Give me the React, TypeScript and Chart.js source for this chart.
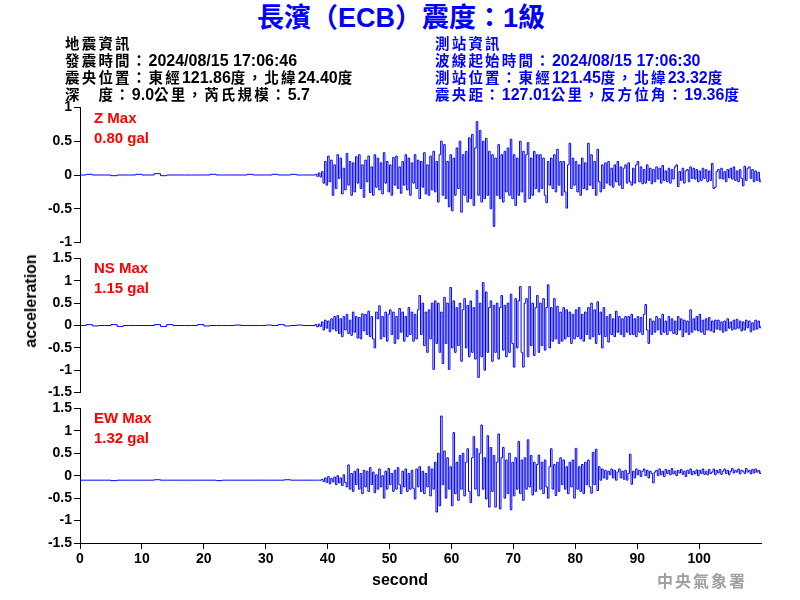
import React, { useEffect, useRef } from "react";
import { Chart, registerables } from "chart.js";

Chart.register(...registerables);

// ---- axis settings ----
const X_MIN = 0;
const X_MAX = 110;
const X_LAST_LABEL = 100;
const PRE_STEP = 1; // seconds between pre-event samples
const ACTIVE_START = 38; // seconds
const ACTIVE_STEP = 0.25; // seconds between samples in the shaking part

// ---- Z component (gal) ----
const zPre = [0, 0.01, 0, 0, 0, -0.01, 0, 0, 0, 0.01, 0, 0, 0.02, -0.01, 0, 0, 0, 0, 0, 0,
  0, 0.01, 0, 0, 0, 0, 0, 0.01, 0, 0, 0, 0.01, 0, 0, 0.01, 0, 0, 0];
const zWave = [
  0.01, -0.02, 0.03, -0.03, // 38
  0.05, -0.12, 0.2, -0.15, // 39
  0.28, -0.1, 0.22, -0.3, // 40
  0.15, -0.2, 0.3, -0.05, // 41
  0.25, -0.28, 0.1, -0.22, // 42
  0.32, -0.15, 0.2, -0.3, // 43
  0.18, -0.25, 0.27, -0.12, // 44
  0.3, -0.2, 0.15, -0.33, // 45
  0.22, -0.1, 0.28, -0.26, // 46
  0.12, -0.3, 0.3, -0.18, // 47
  0.25, -0.22, 0.18, -0.28, // 48
  0.33, -0.12, 0.2, -0.25, // 49
  0.15, -0.3, 0.26, -0.15, // 50
  0.28, -0.2, 0.12, -0.27, // 51
  0.2, -0.15, 0.3, -0.22, // 52
  0.25, -0.3, 0.18, -0.12, // 53
  0.3, -0.2, 0.22, -0.35, // 54
  0.2, -0.18, 0.33, -0.28, // 55
  0.15, -0.3, 0.28, -0.22, // 56
  0.35, -0.25, 0.2, -0.4, // 57
  0.3, 0.5, -0.3, 0.45, // 58
  -0.35, 0.2, -0.47, 0.3, // 59
  -0.53, 0.25, -0.3, 0.4, // 60
  -0.2, 0.5, -0.55, 0.3, // 61
  -0.3, 0.35, -0.4, 0.55, // 62
  -0.35, 0.6, -0.45, 0.4, // 63
  0.79, -0.3, 0.66, -0.4, // 64
  0.5, -0.35, 0.54, -0.3, // 65
  0.35, -0.5, 0.3, -0.76, // 66
  0.25, -0.3, 0.45, -0.35, // 67
  0.3, -0.4, 0.35, -0.25, // 68
  0.4, -0.3, 0.53, -0.35, // 69
  0.3, -0.45, 0.25, -0.3, // 70
  0.5, -0.25, 0.35, -0.4, // 71
  0.3, 0.48, -0.35, 0.25, // 72
  -0.3, 0.35, -0.2, 0.3, // 73
  -0.25, 0.3, -0.2, 0.25, // 74
  -0.3, -0.41, 0.2, -0.15, // 75
  0.25, -0.2, 0.3, -0.25, // 76
  0.38, -0.15, 0.2, -0.3, // 77
  0.2, -0.25, -0.49, 0.15, // 78
  0.47, -0.2, 0.25, -0.15, // 79
  0.2, -0.25, 0.15, -0.3, // 80
  0.25, -0.2, 0.18, -0.22, // 81
  0.47, -0.15, 0.3, -0.2, // 82
  0.2, -0.3, 0.38, -0.1, // 83
  -0.25, 0.15, -0.2, 0.18, // 84
  -0.12, 0.2, -0.15, 0.1, // 85
  -0.18, 0.15, -0.1, 0.2, // 86
  -0.15, 0.12, -0.2, 0.1, // 87
  0.15, -0.12, 0.18, -0.1, // 88
  -0.15, 0.1, -0.12, 0.15, // 89
  0.2, -0.1, 0.12, -0.13, // 90
  0.08, -0.12, 0.15, -0.08, // 91
  0.1, -0.13, 0.08, -0.1, // 92
  0.12, -0.06, 0.1, -0.12, // 93
  0.14, -0.08, 0.06, -0.1, // 94
  0.1, -0.12, 0.08, -0.06, // 95
  0.12, 0.15, -0.17, 0.05, // 96
  -0.08, 0.1, -0.12, 0.06, // 97
  0.08, -0.1, 0.12, -0.05, // 98
  0.1, -0.06, 0.08, -0.1, // 99
  0.06, -0.08, 0.1, -0.05, // 100
  0.08, -0.1, 0.06, -0.08, // 101
  0.17, -0.2, -0.18, 0.05, // 102
  0.08, -0.05, 0.1, -0.06, // 103
  0.05, -0.1, 0.08, -0.04, // 104
  0.1, -0.06, 0.12, -0.08, // 105
  0.06, -0.1, 0.08, -0.05, // 106
  -0.16, 0.13, -0.08, 0.1, // 107
  0.12, -0.05, 0.08, -0.1, // 108
  0.06, -0.08, 0.04, -0.1, // 109
  -0.05, // 110
];

// ---- NS component (gal) ----
const nsPre = [0, 0.02, -0.01, 0, 0, 0.02, -0.02, 0, 0, 0, 0, 0, 0.02, -0.02, 0.02, 0, 0, 0, 0, 0.02,
  -0.01, 0, 0, 0, 0, 0.01, 0, 0, 0, 0, 0.01, 0, 0.02, -0.01, 0, 0.01, 0, 0];
const nsWave = [
  0.02, -0.03, 0.03, -0.02, // 38
  0.08, -0.1, 0.12, -0.06, // 39
  0.1, -0.14, 0.15, -0.08, // 40
  0.2, -0.12, 0.22, -0.18, // 41
  0.15, -0.25, 0.2, -0.1, // 42
  0.25, -0.18, 0.12, -0.22, // 43
  0.3, -0.15, 0.2, -0.28, // 44
  0.18, -0.3, 0.26, -0.12, // 45
  0.25, -0.2, 0.32, -0.25, // 46
  0.2, -0.3, -0.5, 0.3, // 47
  0.15, 0.44, -0.3, 0.2, // 48
  -0.25, 0.3, -0.35, 0.25, // 49
  0.35, -0.2, 0.3, -0.4, // 50
  0.2, -0.3, 0.38, -0.15, // 51
  0.3, -0.35, 0.2, -0.25, // 52
  0.4, -0.2, 0.3, -0.35, // 53
  0.25, -0.3, 0.35, 0.67, // 54
  -0.2, 0.5, -0.45, 0.3, // 55
  -0.6, 0.35, -0.3, 0.5, // 56
  -0.98, 0.55, -0.4, 0.5, // 57
  -0.6, 0.3, -0.85, 0.63, // 58
  -0.4, 0.5, -0.98, 0.85, // 59
  -0.5, 0.55, -0.6, 0.4, // 60
  -0.45, 0.5, -0.8, 0.35, // 61
  0.6, -0.5, 0.45, -0.7, // 62
  0.55, -0.6, 0.4, -0.75, // 63
  0.78, -1.16, 0.5, -0.7, // 64
  0.96, -1.0, 0.75, -0.6, // 65
  0.4, 0.55, -0.8, 0.45, // 66
  -0.6, 0.5, -0.75, 0.4, // 67
  0.67, -0.55, 0.45, -0.7, // 68
  0.5, -0.6, 0.7, -0.4, // 69
  -0.93, 0.6, -0.5, 0.55, // 70
  0.87, -0.6, -0.93, 0.5, // 71
  0.6, -0.7, 0.87, -0.45, // 72
  0.5, -0.67, 0.4, 0.67, // 73
  -0.6, 0.5, -0.45, 0.6, // 74
  -0.55, 0.4, 0.91, -0.5, // 75
  0.4, -0.35, 0.6, -0.3, // 76
  0.43, -0.4, 0.3, -0.35, // 77
  0.4, -0.3, 0.35, -0.25, // 78
  0.3, -0.4, 0.25, -0.3, // 79
  0.35, -0.25, 0.4, -0.3, // 80
  0.25, -0.35, 0.3, -0.2, // 81
  0.4, -0.3, 0.5, -0.25, // 82
  0.35, -0.4, 0.53, -0.2, // 83
  0.3, -0.5, 0.4, -0.25, // 84
  0.2, -0.37, 0.25, -0.2, // 85
  0.15, -0.25, 0.32, -0.15, // 86
  0.2, -0.2, 0.15, -0.25, // 87
  0.2, -0.15, 0.2, -0.2, // 88
  0.25, -0.2, 0.15, -0.25, // 89
  0.2, -0.15, 0.18, -0.2, // 90
  0.25, 0.47, -0.1, -0.4, // 91
  0.15, -0.2, 0.1, -0.15, // 92
  0.2, -0.1, 0.15, -0.2, // 93
  0.25, -0.15, 0.1, -0.2, // 94
  0.2, -0.12, 0.15, -0.18, // 95
  0.1, -0.2, 0.2, -0.1, // 96
  0.15, -0.25, 0.12, -0.15, // 97
  0.1, -0.2, 0.35, -0.15, // 98
  0.15, -0.1, 0.2, -0.12, // 99
  0.25, -0.15, 0.12, -0.2, // 100
  0.15, -0.1, 0.18, -0.12, // 101
  0.1, -0.15, 0.12, -0.08, // 102
  0.12, -0.1, 0.08, -0.15, // 103
  0.1, -0.12, 0.15, -0.06, // 104
  0.08, -0.1, 0.12, -0.08, // 105
  0.14, -0.06, 0.1, -0.12, // 106
  0.08, -0.1, 0.12, -0.05, // 107
  0.1, -0.14, 0.06, -0.1, // 108
  0.12, -0.08, 0.1, -0.05, // 109
  0.0, // 110
];

// ---- EW component (gal) ----
const ewPre = [-0.1, -0.1, -0.1, -0.1, -0.1, -0.11, -0.1, -0.1, -0.1, -0.1, -0.1, -0.1, -0.09, -0.1, -0.1, -0.1,
  -0.1, -0.1, -0.1, -0.1, -0.1, -0.1, -0.11, -0.1, -0.1, -0.1, -0.1, -0.1, -0.1, -0.1, -0.1, -0.1,
  -0.1, -0.09, -0.1, -0.1, -0.1, -0.1];
const ewWave = [
  -0.1, -0.1, -0.1, -0.1, // 38
  -0.08, -0.13, -0.05, -0.15, // 39
  -0.02, -0.18, -0.06, -0.14, // 40
  -0.03, -0.2, 0.0, -0.16, // 41
  -0.05, -0.22, 0.02, -0.15, // 42
  -0.25, 0.24, -0.3, 0.05, // 43
  -0.35, 0.1, -0.2, 0.15, // 44
  -0.3, 0.05, -0.4, 0.12, // 45
  -0.25, 0.1, -0.35, 0.18, // 46
  -0.2, 0.08, -0.38, 0.02, // 47
  -0.3, 0.15, -0.25, 0.0, // 48
  -0.5, 0.1, -0.3, 0.16, // 49
  -0.2, 0.05, -0.35, 0.12, // 50
  -0.3, 0.18, -0.2, -0.4, // 51
  0.1, -0.25, 0.15, -0.35, // 52
  0.05, -0.3, 0.12, -0.28, // 53
  -0.52, 0.15, -0.25, 0.2, // 54
  -0.35, 0.1, -0.4, 0.05, // 55
  -0.25, 0.2, -0.45, 0.15, // 56
  -0.3, 0.3, -0.81, 0.5, // 57
  -0.67, 1.33, -0.2, 0.55, // 58
  -0.5, 0.4, -0.3, 0.2, // 59
  -0.67, 0.96, -0.4, 0.3, // 60
  -0.55, 0.45, -0.3, 0.5, // 61
  -0.45, 0.3, 0.6, -0.35, // 62
  -0.6, 0.4, 0.87, -0.3, // 63
  0.6, -0.45, 0.5, 1.13, // 64
  -0.3, 0.4, -0.52, 0.89, // 65
  -0.7, 0.63, -0.35, 0.45, // 66
  -0.7, 0.3, 0.93, -0.74, // 67
  0.4, 0.63, -0.5, 0.35, // 68
  -0.4, 0.5, -0.76, 0.3, // 69
  -0.45, 0.4, -0.3, 0.76, // 70
  -0.4, 0.35, -0.55, 0.4, // 71
  -0.3, 0.8, -0.25, 0.45, // 72
  -0.43, 0.3, -0.35, 0.25, // 73
  0.46, -0.3, 0.3, -0.4, // 74
  0.35, -0.25, -0.5, 0.2, // 75
  0.6, -0.3, 0.25, -0.44, // 76
  0.3, -0.35, 0.4, -0.2, // 77
  0.35, -0.3, 0.2, -0.4, // 78
  0.3, -0.25, 0.35, -0.5, // 79
  0.61, -0.3, 0.2, -0.35, // 80
  0.25, -0.4, 0.3, -0.2, // 81
  0.35, -0.25, -0.39, 0.52, // 82
  -0.2, 0.59, -0.33, 0.2, // 83
  -0.1, 0.15, -0.05, 0.12, // 84
  -0.08, 0.1, 0.02, 0.15, // 85
  -0.05, 0.12, -0.1, 0.08, // 86
  0.15, -0.05, 0.1, -0.08, // 87
  0.12, -0.1, 0.05, 0.48, // 88
  -0.19, 0.1, -0.05, 0.15, // 89
  0.02, 0.12, -0.02, 0.1, // 90
  0.15, 0.0, 0.12, -0.05, // 91
  0.1, 0.05, -0.16, 0.08, // 92
  0.12, 0.0, 0.15, 0.02, // 93
  0.1, -0.02, 0.14, 0.05, // 94
  0.12, 0.02, 0.16, 0.04, // 95
  0.1, 0.0, 0.12, 0.06, // 96
  0.14, 0.03, 0.1, -0.02, // 97
  0.12, 0.05, 0.15, 0.02, // 98
  0.1, 0.04, 0.13, 0.0, // 99
  0.12, 0.05, 0.15, 0.03, // 100
  0.1, 0.02, 0.14, 0.05, // 101
  0.08, 0.15, 0.02, 0.12, // 102
  0.06, 0.14, 0.03, 0.1, // 103
  0.15, 0.05, 0.12, 0.02, // 104
  0.1, 0.16, 0.06, 0.12, // 105
  0.08, 0.15, 0.04, 0.12, // 106
  0.1, 0.05, 0.16, 0.08, // 107
  0.12, 0.04, 0.14, 0.06, // 108
  0.15, 0.08, 0.12, 0.05, // 109
  0.1, // 110
];

// ---- texts ----
const titleText = "長濱（ECB）震度：1級";
const quakeInfo = [
  "地震資訊",
  "發震時間：2024/08/15 17:06:46",
  "震央位置：東經121.86度，北緯24.40度",
  "深　度：9.0公里，芮氏規模：5.7",
];
const stationInfo = [
  "測站資訊",
  "波線起始時間：2024/08/15 17:06:30",
  "測站位置：東經121.45度，北緯23.32度",
  "震央距：127.01公里，反方位角：19.36度",
];
const panelNames = ["Z Max", "NS Max", "EW Max"];
const panelMaxLabels = ["0.80 gal", "1.15 gal", "1.32 gal"];
const yLabel = "acceleration";
const xLabel = "second";
const agency = "中央氣象署";

const LATIN = '"Liberation Sans", Arial, "Noto Sans CJK TC", sans-serif';
const CJK = '"Noto Sans CJK TC", sans-serif';
const BLUE = "#0000FF";

function buildPoints(pre: number[], wave: number[]) {
  const pts: { x: number; y: number }[] = [];
  pre.forEach((v, i) => pts.push({ x: i * PRE_STEP, y: v }));
  wave.forEach((v, i) => pts.push({ x: ACTIVE_START + i * ACTIVE_STEP, y: v }));
  return pts;
}

type PanelProps = {
  top: number;
  height: number;
  padBottom: number;
  yMin: number;
  yMax: number;
  pre: number[];
  wave: number[];
  showX: boolean;
};

function WavePanel({ top, height, padBottom, yMin, yMax, pre, wave, showX }: PanelProps) {
  const ref = useRef<HTMLCanvasElement>(null);
  useEffect(() => {
    const tickFont = { family: LATIN, size: 14, weight: "bold" as const };
    const xScale: any = {
      type: "linear",
      min: X_MIN,
      max: X_MAX,
      display: showX,
      border: { display: true, color: "#000", width: 1 },
      grid: { drawOnChartArea: false, drawTicks: true, tickLength: 6, color: "#000" },
      ticks: {
        stepSize: 10,
        autoSkip: false,
        maxRotation: 0,
        padding: 2,
        color: "#000",
        font: tickFont,
      },
      afterBuildTicks: (s: any) => {
        s.ticks = s.ticks.filter((t: any) => t.value <= X_LAST_LABEL);
      },
    };
    if (showX) {
      xScale.afterFit = (s: any) => {
        s.height = 57;
      };
    }
    const chart = new Chart(ref.current!, {
      type: "line",
      data: {
        datasets: [
          {
            data: buildPoints(pre, wave),
            borderColor: BLUE,
            borderWidth: 1,
            pointRadius: 0,
            stepped: true,
            fill: false,
            tension: 0,
          },
        ],
      },
      options: {
        animation: false,
        responsive: false,
        events: [],
        layout: { padding: { top: 10, bottom: padBottom, left: 0, right: 39 } },
        plugins: { legend: { display: false }, tooltip: { enabled: false } },
        scales: {
          x: xScale,
          y: {
            min: yMin,
            max: yMax,
            border: { display: true, color: "#000", width: 1 },
            grid: { drawOnChartArea: false, drawTicks: true, tickLength: 6, color: "#000" },
            ticks: {
              stepSize: 0.5,
              padding: 2,
              color: "#000",
              font: tickFont,
              callback: (v: any) => String(Math.round(Number(v) * 10) / 10),
            },
            afterFit: (s: any) => {
              s.width = 80;
            },
          },
        },
      },
    });
    return () => chart.destroy();
  }, []);
  return (
    <canvas
      ref={ref}
      width={800}
      height={height}
      style={{ position: "absolute", left: 0, top, width: 800, height }}
    />
  );
}

const textBase: React.CSSProperties = {
  position: "absolute",
  fontFamily: LATIN,
  fontWeight: "bold",
  whiteSpace: "nowrap",
  margin: 0,
};

// Render CJK runs slightly smaller with spacing, Latin runs at full size
function MixedLine({ text }: { text: string }) {
  const parts = text.split(/([\u3000-\u9fff\uff00-\uffef]+)/).filter((p) => p.length > 0);
  return (
    <div>
      {parts.map((p, i) =>
        /[\u3000-\u9fff\uff00-\uffef]/.test(p) ? (
          <span key={i} style={{ fontFamily: CJK, fontSize: 14.5, letterSpacing: 2.2, fontWeight: "bold" }}>
            {p}
          </span>
        ) : (
          <span key={i}>{p}</span>
        )
      )}
    </div>
  );
}

export default function App() {
  const panelTops = [107, 258, 408];
  return (
    <div
      style={{
        position: "fixed",
        left: 0,
        top: 0,
        width: 800,
        height: 600,
        background: "#fff",
        overflow: "hidden",
      }}
    >
      <WavePanel top={97} height={156} padBottom={10} yMin={-1} yMax={1} pre={zPre} wave={zWave} showX={false} />
      <WavePanel top={248} height={155} padBottom={10} yMin={-1.5} yMax={1.5} pre={nsPre} wave={nsWave} showX={false} />
      <WavePanel top={398} height={202} padBottom={0} yMin={-1.5} yMax={1.5} pre={ewPre} wave={ewWave} showX={true} />

      <div style={{ ...textBase, left: 0, width: 802, top: 4, textAlign: "center", fontSize: 27, lineHeight: "28px", color: BLUE }}>
        {titleText}
      </div>
      <div style={{ ...textBase, left: 65, top: 35, fontSize: 16, lineHeight: "16px", color: "#000" }}>
        {quakeInfo.map((s, i) => (
          <MixedLine key={i} text={s} />
        ))}
      </div>
      <div style={{ ...textBase, left: 435, top: 35, fontSize: 16, lineHeight: "16px", color: BLUE }}>
        {stationInfo.map((s, i) => (
          <MixedLine key={i} text={s} />
        ))}
      </div>
      {panelTops.map((t, i) => (
        <div key={i} style={{ ...textBase, left: 94, top: t + (i === 0 ? 1 : 0), fontSize: 15, lineHeight: "20px", color: "#FF0000" }}>
          <div>{panelNames[i]}</div>
          <div>{panelMaxLabels[i]}</div>
        </div>
      ))}
      <div
        style={{
          ...textBase,
          left: 31,
          top: 301,
          fontSize: 16,
          color: "#000",
          transform: "translate(-50%, -50%) rotate(-90deg)",
        }}
      >
        {yLabel}
      </div>
      <div style={{ ...textBase, left: 400, top: 580, fontSize: 16, color: "#000", transform: "translate(-50%, -50%)" }}>
        {xLabel}
      </div>
      <div style={{ ...textBase, fontFamily: CJK, left: 657, top: 571, fontSize: 16, lineHeight: "18px", color: "#A0A0A0", letterSpacing: 2 }}>
        {agency}
      </div>
    </div>
  );
}
